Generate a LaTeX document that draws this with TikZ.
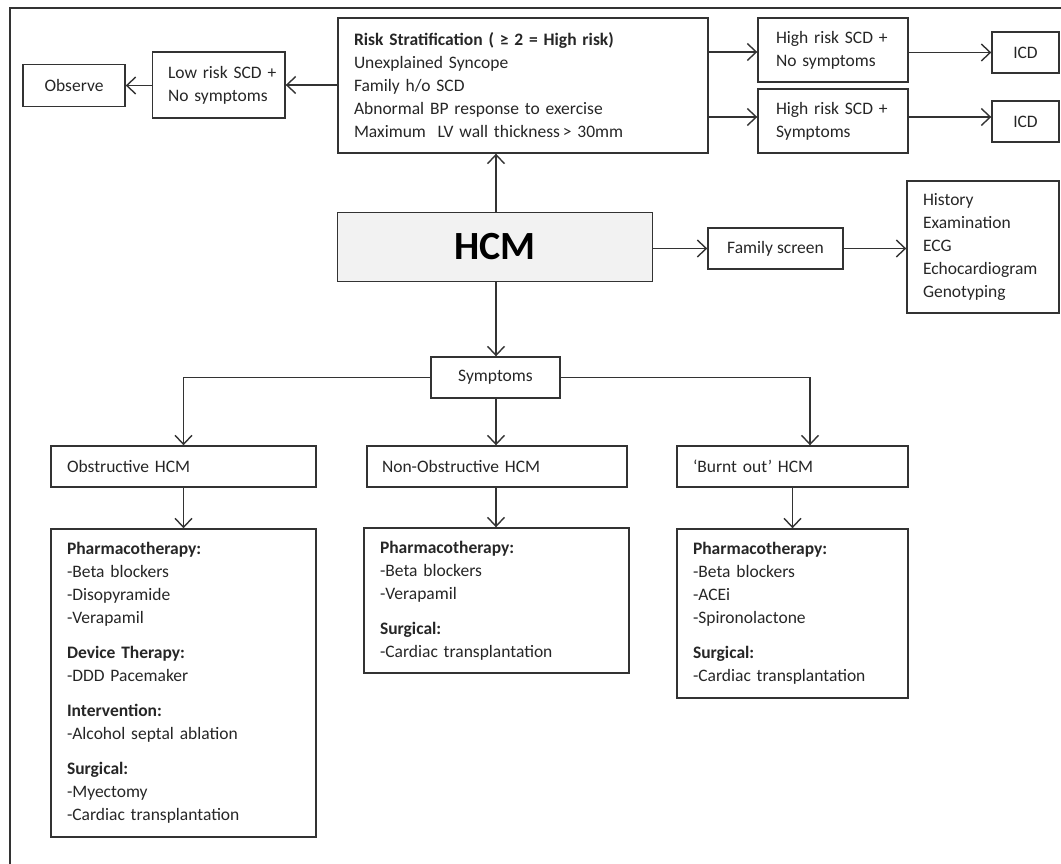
\documentclass[tikz,border=0pt]{standalone}
\usepackage{fontspec}
\setmainfont{Carlito}
\usetikzlibrary{arrows.meta,calc}
\newcommand\bodyfont{\fontsize{17.5}{23}\selectfont}
\tikzset{
  box/.style={draw=black!80, line width=1.4pt, inner sep=0pt, font=\bodyfont,
    text=black!85},
  lpad/.style={execute at begin node={\leftskip=#1\relax}},
  leftbox/.style={box, align=left, inner xsep=0pt, lpad=16pt},
  link/.style={draw=black!80, line width=1.4pt,
    -{Straight Barb[length=9pt,width=17pt,line width=1.4pt]}},
}
\begin{document}
\begin{tikzpicture}[x=1pt,y=-1pt]
\useasboundingbox (0,0) rectangle (1061,864);
% open frame along the top and left
\draw[black!80, line width=1.4pt] (1061,8) -- (10,8) -- (10,864);

% guide lines for the vertical connectors
\coordinate (axis) at (496,0);
\coordinate (bx) at (810,0);

% top row: risk stratification
\node[box, minimum width=102pt, minimum height=42pt] (obs) at (74,85.5) {Observe};
\node[leftbox, lpad=15.5pt, text width=132.5pt, minimum width=132.5pt,
      minimum height=66pt] (low) at (218.75,85) {Low risk SCD +\\No symptoms};
\node[leftbox, text width=370pt, minimum width=370pt, minimum height=135pt]
  (risk) at (523,85.5)
  {\textbf{Risk Stratification ( ≥ 2 = High risk)}\\
   Unexplained Syncope\\
   Family h/o SCD\\
   Abnormal BP response to exercise\\
   Maximum~ LV wall thickness\,> 30mm};
\node[leftbox, lpad=18pt, text width=150pt, minimum width=150pt, minimum height=64pt]
  (hr1) at (833,50) {High risk SCD +\\No symptoms};
\node[leftbox, lpad=18pt, text width=150pt, minimum width=150pt, minimum height=64pt]
  (hr2) at (833,121) {High risk SCD +\\Symptoms};
\node[box, minimum width=67pt, minimum height=41pt] (icd1) at (1025.5,52.5) {ICD};
\node[box, minimum width=67pt, minimum height=41pt] (icd2) at (1025.5,121.5) {ICD};

% middle row: HCM and family screening
\node[box, fill=black!5, minimum width=314.5pt, minimum height=69pt,
      font=\fontsize{40}{46}\selectfont\bfseries, text=black] (hcm) at (495,247) {HCM};
\node[box, minimum width=135pt, minimum height=41pt] (fam) at (775.5,248.5) {Family screen};
\node[leftbox, text width=152pt, minimum width=152pt, minimum height=132pt]
  (list) at (983,247)
  {History\\Examination\\ECG\\Echocardiogram\\Genotyping};

% symptoms and the three phenotypes
\node[box, minimum width=129pt, minimum height=41pt] (sym) at (495.5,377.5) {Symptoms};
\node[leftbox, text width=265pt, minimum width=265pt, minimum height=41pt]
  (obst) at (183.5,466.5) {Obstructive HCM};
\node[leftbox, lpad=15pt, text width=260pt, minimum width=260pt, minimum height=41pt]
  (nonobst) at (497,466.5) {Non-Obstructive HCM};
\node[leftbox, text width=231pt, minimum width=231pt, minimum height=41pt]
  (burnt) at (792.5,466.5) {‘Burnt out’ HCM};

% treatment boxes
\node[leftbox, text width=265pt, minimum width=265pt, minimum height=308pt]
  (tobst) at (183.5,683)
  {\textbf{Pharmacotherapy:}\\
   -Beta blockers\\
   -Disopyramide\\
   -Verapamil\\[12pt]
   \textbf{Device Therapy:}\\
   -DDD Pacemaker\\[12pt]
   \textbf{Intervention:}\\
   -Alcohol septal ablation\\[12pt]
   \textbf{Surgical:}\\
   -Myectomy\\
   -Cardiac transplantation};
\node[leftbox, text width=265pt, minimum width=265pt, minimum height=145pt]
  (tnon) at (496.5,600.5)
  {\textbf{Pharmacotherapy:}\\
   -Beta blockers\\
   -Verapamil\\[12pt]
   \textbf{Surgical:}\\
   -Cardiac transplantation};
\node[leftbox, text width=231pt, minimum width=231pt, minimum height=169pt]
  (tburnt) at (792.5,613.5)
  {\textbf{Pharmacotherapy:}\\
   -Beta blockers\\
   -ACEi\\
   -Spironolactone\\[12pt]
   \textbf{Surgical:}\\
   -Cardiac transplantation};

% connectors
\draw[link] (risk.west |- low.east) -- (low.east);
\draw[link] (low.west |- obs.east) -- (obs.east);
\draw[link] (risk.east |- 0,52) -- (hr1.west |- 0,52);
\draw[link] (risk.east |- 0,117) -- (hr2.west |- 0,117);
\draw[link] (hr1.east |- icd1.west) -- (icd1.west);
\draw[link] (hr2.east |- 0,117) -- (icd2.west |- 0,117);
\draw[link] (axis |- hcm.north) -- (axis |- risk.south);
\draw[link] (hcm.east |- fam.west) -- (fam.west);
\draw[link] (fam.east) -- (list.west |- fam.east);
\draw[link] (axis |- hcm.south) -- (axis |- sym.north);
\draw[link] (sym.west) -| (obst.north);
\draw[link] (axis |- sym.south) -- (axis |- nonobst.north);
\draw[link] (sym.east) -| (bx |- burnt.north);
\draw[link] (obst.south) -- (tobst.north);
\draw[link] (axis |- nonobst.south) -- (axis |- tnon.north);
\draw[link] (burnt.south) -- (tburnt.north);
\end{tikzpicture}
\end{document}
